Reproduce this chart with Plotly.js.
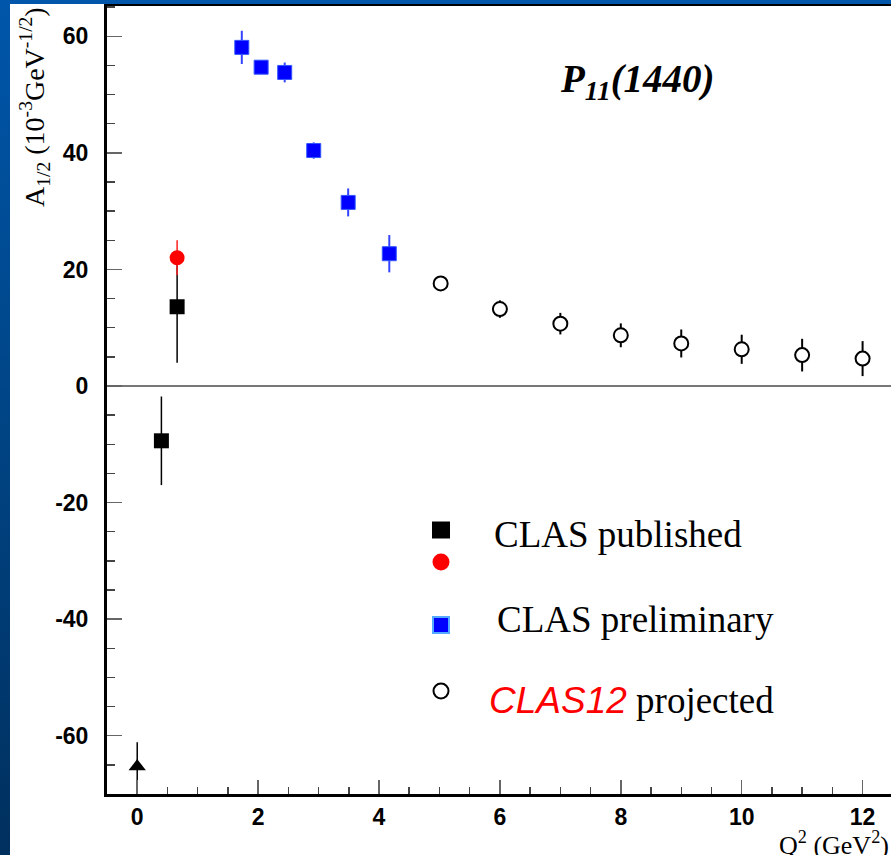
<!DOCTYPE html>
<html>
<head>
<meta charset="utf-8">
<script src="https://cdn.plot.ly/plotly-3.0.1.min.js"></script>
<style>
  html, body { margin:0; padding:0; width:891px; height:855px; overflow:hidden;
    background: linear-gradient(to bottom, #0056aa 0%, #004688 45%, #00305e 100%); }
  #chart { position:absolute; left:10px; top:4px; width:881px; height:851px; background:#fff; }
</style>
</head>
<body>
<div id="chart"></div>
<script>
// ---- data ----
const pubSquareQ2   = [0.40, 0.66];
const pubSquareA    = [-9.4, 13.6];
const pubSquareErr  = [7.6, 9.6];

const pubCircleQ2   = [0.66];
const pubCircleA    = [22.0];
const pubCircleErr  = [3.0];

const photonQ2      = [0.0];
const photonA       = [-65.3];
const photonErrUp   = [4.2];
const photonErrDown = [5.0];

const prelimQ2  = [1.73, 2.05, 2.44, 2.92, 3.49, 4.17];
const prelimA   = [58.1, 54.7, 53.8, 40.4, 31.5, 22.7];
const prelimErr = [2.85, 1.0, 1.7, 1.4, 2.4, 3.2];

const projQ2  = [5.02, 6, 7, 8, 9, 10, 11, 12];
const projA   = [17.6, 13.2, 10.7, 8.7, 7.3, 6.3, 5.3, 4.7];
const projErr = [1.0, 1.5, 1.85, 2.05, 2.4, 2.5, 2.8, 3.0];

const xTickVals  = [0, 2, 4, 6, 8, 10, 12];
const xTickText  = ["0", "2", "4", "6", "8", "10", "12"];
const yTickVals  = [-60, -40, -20, 0, 20, 40, 60];
const yTickText  = ["-60", "-40", "-20", "0", "20", "40", "60"];

const legendLabels = ["CLAS published", "CLAS preliminary", "CLAS12", "projected"];
const titleText = "P<sub>11</sub>(1440)";
const yTitle = "A<sub>1/2</sub> (10<sup>-3</sup>GeV<sup>-1/2</sup>)";
const xTitle = "Q<sup>2</sup> (GeV<sup>2</sup>)";

// ---- traces ----
const traces = [
  { x: photonQ2, y: photonA, type: 'scatter', mode: 'markers',
    marker: { symbol: 'triangle-up', size: 15, color: '#000' },
    error_y: { type: 'data', array: photonErrUp, arrayminus: photonErrDown, symmetric: false, color: '#000', thickness: 1.5, width: 0 } },
  { x: pubSquareQ2, y: pubSquareA, type: 'scatter', mode: 'markers',
    marker: { symbol: 'square', size: 15, color: '#000' },
    error_y: { type: 'data', array: pubSquareErr, color: '#000', thickness: 1.5, width: 0 } },
  { x: pubCircleQ2, y: pubCircleA, type: 'scatter', mode: 'markers',
    marker: { symbol: 'circle', size: 15, color: '#ff0000' },
    error_y: { type: 'data', array: pubCircleErr, color: '#ff2020', thickness: 1.5, width: 0 } },
  { x: prelimQ2, y: prelimA, type: 'scatter', mode: 'markers',
    marker: { symbol: 'square', size: 14, color: '#0000ff', line: { color: '#3355ff', width: 1 } },
    error_y: { type: 'data', array: prelimErr, color: '#3344ff', thickness: 2, width: 0 } },
  { x: projQ2, y: projA, type: 'scatter', mode: 'markers',
    marker: { symbol: 'circle', size: 14, color: '#fff', line: { color: '#000', width: 2 } },
    error_y: { type: 'data', array: projErr, color: '#000', thickness: 2, width: 0 } }
];

// paper coordinate helpers for plot area: x from page 107..891, y page 6..794
const px = p => (p - 107) / 784;
const py = p => (794 - p) / 788;

const serif = '"Liberation Serif", "Times New Roman", serif';
const sans = '"Liberation Sans", Arial, sans-serif';

const layout = {
  width: 881, height: 851,
  margin: { l: 97, r: 0, t: 2, b: 61 },
  paper_bgcolor: '#ffffff', plot_bgcolor: '#ffffff',
  showlegend: false,
  xaxis: {
    range: [-0.5, 12.47], tickmode: 'array', tickvals: xTickVals, ticktext: xTickText,
    ticks: 'inside', ticklen: 14, tickwidth: 1.5, tickcolor: '#666',
    minor: { dtick: 0.5, tick0: 0, ticks: 'inside', ticklen: 7, tickwidth: 1.5, tickcolor: '#444', showgrid: false },
    showline: true, linecolor: '#000', linewidth: 3, mirror: true,
    showgrid: false, zeroline: false,
    tickfont: { family: sans, size: 23, color: '#000', weight: 'bold' },
    ticklabelstandoff: 0
  },
  yaxis: {
    range: [-70, 65.2], tickmode: 'array', tickvals: yTickVals, ticktext: yTickText,
    ticks: 'inside', ticklen: 15, tickwidth: 1.5, tickcolor: '#666',
    minor: { dtick: 5, tick0: 0, ticks: 'inside', ticklen: 8, tickwidth: 1.5, tickcolor: '#444', showgrid: false },
    showline: true, linecolor: '#000', linewidth: 3, mirror: false,
    showgrid: false, zeroline: true, zerolinecolor: '#777', zerolinewidth: 1.5,
    tickfont: { family: sans, size: 23, color: '#000', weight: 'bold' },
    ticklabelstandoff: 11
  },
  annotations: [
    { text: '<b><i>' + titleText + '</i></b>', xref: 'paper', yref: 'paper', x: px(637), y: py(82),
      xanchor: 'center', yanchor: 'middle', showarrow: false,
      font: { family: serif, size: 39, color: '#000' } },
    { text: yTitle, xref: 'paper', yref: 'paper', x: px(35), y: py(5), textangle: -90,
      xanchor: 'center', yanchor: 'top', showarrow: false,
      font: { family: serif, size: 28, color: '#000' } },
    { text: xTitle, xref: 'paper', yref: 'paper', x: 1.0, y: py(843),
      xanchor: 'right', yanchor: 'middle', showarrow: false,
      font: { family: serif, size: 26, color: '#000' } },
    { text: legendLabels[0], xref: 'paper', yref: 'paper', x: px(492), y: py(534),
      xanchor: 'left', yanchor: 'middle', showarrow: false,
      font: { family: serif, size: 37, color: '#000' } },
    { text: legendLabels[1], xref: 'paper', yref: 'paper', x: px(495), y: py(619),
      xanchor: 'left', yanchor: 'middle', showarrow: false,
      font: { family: serif, size: 37, color: '#000' } },
    { text: '<i><span style="font-family:\'Liberation Sans\', Arial, sans-serif;fill:#ff0000">' + legendLabels[2] + '</span></i> ' + legendLabels[3],
      xref: 'paper', yref: 'paper', x: px(487), y: py(700),
      xanchor: 'left', yanchor: 'middle', showarrow: false,
      font: { family: serif, size: 37, color: '#000' } }
  ],
  shapes: [
    { type: 'rect', xref: 'paper', yref: 'paper', xsizemode: 'pixel', ysizemode: 'pixel',
      xanchor: px(441), yanchor: py(530), x0: -9, x1: 9, y0: -8.5, y1: 8.5,
      fillcolor: '#000', line: { width: 0 } },
    { type: 'circle', xref: 'paper', yref: 'paper', xsizemode: 'pixel', ysizemode: 'pixel',
      xanchor: px(441), yanchor: py(562), x0: -8.5, x1: 8.5, y0: -8.5, y1: 8.5,
      fillcolor: '#ff0000', line: { width: 0 } },
    { type: 'rect', xref: 'paper', yref: 'paper', xsizemode: 'pixel', ysizemode: 'pixel',
      xanchor: px(441), yanchor: py(625), x0: -8, x1: 8, y0: -8, y1: 8,
      fillcolor: '#0000ff', line: { color: '#55aaff', width: 2 } },
    { type: 'circle', xref: 'paper', yref: 'paper', xsizemode: 'pixel', ysizemode: 'pixel',
      xanchor: px(441), yanchor: py(691), x0: -7.5, x1: 7.5, y0: -7.5, y1: 7.5,
      fillcolor: '#fff', line: { color: '#000', width: 2 } }
  ]
};

Plotly.newPlot('chart', traces, layout, { displayModeBar: false, staticPlot: true });
</script>
</body>
</html>
